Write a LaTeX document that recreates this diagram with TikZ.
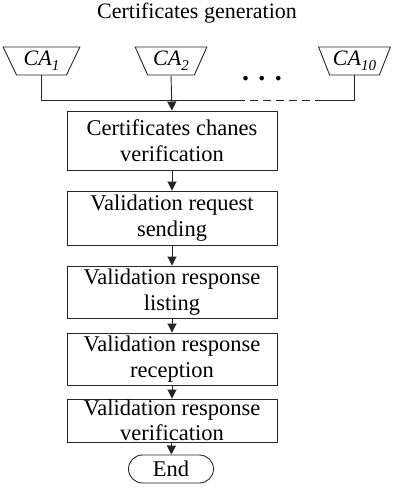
\documentclass[tikz,border=0pt]{standalone}
\usepackage{fontspec}
\setmainfont{Liberation Serif}
\usetikzlibrary{shapes.geometric,arrows.meta}
\newcommand{\casub}[1]{\textit{CA}\raisebox{-5pt}{\fontsize{15}{15}\selectfont\textit{#1}}}
\begin{document}
\begin{tikzpicture}[x=1pt,y=-1pt,
  line/.style={draw=black!85,line width=0.9pt},
  arr/.style={line,-{Triangle[length=9pt,width=9pt]}},
  stepbox/.style={line,rectangle,minimum width=210pt,inner sep=0pt,align=center,font=\fontsize{22.5}{25.5}\selectfont},
  cabox/.style={line,trapezium,shape border rotate=180,trapezium stretches=true,trapezium angle=64,minimum height=28pt,inner sep=0pt,font=\fontsize{22}{24}\selectfont}]
\useasboundingbox (0,0) rectangle (395,501);
\node[font=\fontsize{22}{24}\selectfont] (title) at (197,13) {Certificates generation};
\node[cabox,minimum width=77pt] (ca1) at (41.5,61) {\casub{1}};
\node[cabox,minimum width=72pt] (ca2) at (171,61) {\casub{2}};
\node[cabox,minimum width=72pt] (ca10) at (354.5,61) {\casub{10}};
\node[font=\fontsize{28}{28}\selectfont\bfseries,anchor=base] (dots) at (262,80) {. . .};
\coordinate (jd) at (237,100);
\coordinate (je) at (322,100);
\node[stepbox,minimum height=59pt] (b1) at (172,140.5) {Certificates chanes\\verification};
\node[stepbox,minimum height=54pt] (b2) at (172,218) {Validation request\\sending};
\node[stepbox,minimum height=52pt] (b3) at (172,292) {Validation response\\listing};
\node[stepbox,minimum height=52pt] (b4) at (172,359) {Validation response\\reception};
\node[stepbox,minimum height=43pt] (b5) at (172,420.5) {Validation response\\verification};
\node[line,rectangle,rounded corners=14pt,minimum width=85pt,minimum height=28pt,inner sep=0pt,font=\fontsize{22.5}{24}\selectfont] (end) at (171,469) {End};
\draw[line] (ca1.south) |- (jd);
\draw[line,dash pattern=on 8pt off 5pt] (jd) -- (je);
\draw[line] (je) -| (ca10.south);
\draw[arr] (ca2.south) -- (b1.north);
\draw[arr] (b1) -- (b2);
\draw[arr] (b2) -- (b3);
\draw[arr] (b3) -- (b4);
\draw[arr] (b4) -- (b5);
\draw[arr] (b5) -- (end);
\end{tikzpicture}
\end{document}
